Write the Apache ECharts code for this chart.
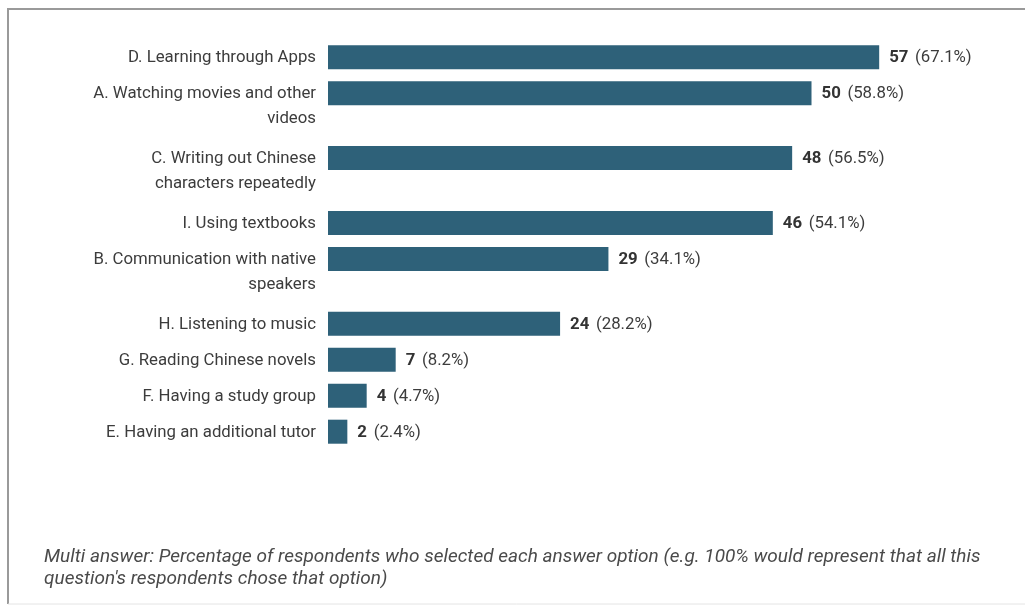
<!DOCTYPE html>
<html>
<head>
<meta charset="utf-8">
<title>Learning methods</title>
<script src="https://cdn.jsdelivr.net/npm/echarts@6/dist/echarts.min.js"></script>
<style>
  html, body { margin: 0; padding: 0; background: #ffffff; }
  #chart { width: 1025px; height: 606px; }
</style>
</head>
<body>
<div id="chart"></div>
<script>
// Answer options (line breaks as they wrap beside the bars)
const categories = [
  'D. Learning through Apps',
  'A. Watching movies and other\nvideos',
  'C. Writing out Chinese\ncharacters repeatedly',
  'I. Using textbooks',
  'B. Communication with native\nspeakers',
  'H. Listening to music',
  'G. Reading Chinese novels',
  'F. Having a study group',
  'E. Having an additional tutor'
];
// Number of respondents choosing each option
const counts = [57, 50, 48, 46, 29, 24, 7, 4, 2];
// Share of respondents, as printed next to each bar
const percents = ['67.1%', '58.8%', '56.5%', '54.1%', '34.1%', '28.2%', '8.2%', '4.7%', '2.4%'];

const footnote = 'Multi answer: Percentage of respondents who selected each answer option (e.g. 100% would represent that all this\nquestion\'s respondents chose that option)';

const BAR_COLOR = '#2e6179';
const TEXT_COLOR = '#3c3c3c';
const FONT = 'Roboto, "Noto Sans", sans-serif';
const LABEL_SIZE = 16.8;

// Rows with a wrapped label take more vertical room than single-line rows.
const rowPos = [];
let acc = 0;
categories.forEach((c, i) => {
  if (i > 0) {
    const prevLines = categories[i - 1].split('\n').length;
    acc += 1 + 0.8 * (prevLines - 1);
  }
  rowPos.push(acc);
});

const data = counts.map((v, i) => [v, rowPos[i], i]);

const chart = echarts.init(document.getElementById('chart'), null, { renderer: 'canvas' });

chart.setOption({
  animation: false,
  backgroundColor: '#ffffff',
  title: {
    text: footnote,
    left: 39,
    top: 541,
    textStyle: {
      fontFamily: FONT,
      fontStyle: 'italic',
      fontWeight: 'normal',
      fontSize: 19,
      lineHeight: 22,
      color: '#4a4a4a'
    }
  },
  graphic: [
    {
      type: 'line', silent: true,
      shape: { x1: 8, y1: 9, x2: 1025, y2: 9 },
      style: { stroke: '#9a9a9a', lineWidth: 2 }
    },
    {
      type: 'line', silent: true,
      shape: { x1: 8, y1: 8, x2: 8, y2: 604 },
      style: { stroke: '#9a9a9a', lineWidth: 2 }
    },
    {
      type: 'line', silent: true,
      shape: { x1: 8, y1: 604, x2: 1025, y2: 604 },
      style: { stroke: '#e4e4e4', lineWidth: 1 }
    }
  ],
  grid: { left: 328, top: 39.3, width: 580.2, height: 410.4 },
  xAxis: { type: 'value', min: 0, max: 60, show: false },
  yAxis: { type: 'value', min: -0.5, max: 10.9, inverse: true, show: false },
  series: [{
    type: 'custom',
    encode: { x: 0, y: 1 },
    data: data,
    renderItem: function (params, api) {
      const val = api.value(0);
      const pos = api.value(1);
      const idx = api.value(2);
      const start = api.coord([0, pos]);
      const end = api.coord([val, pos]);
      const h = api.size([0, 0.667])[1];
      return {
        type: 'group',
        children: [
          {
            type: 'rect',
            shape: { x: start[0], y: start[1] - h / 2, width: end[0] - start[0], height: h },
            style: { fill: BAR_COLOR }
          },
          {
            type: 'text',
            x: start[0] - 12,
            y: start[1] - 11.5,
            style: {
              text: categories[idx],
              align: 'right',
              verticalAlign: 'top',
              lineHeight: 25,
              fill: TEXT_COLOR,
              font: LABEL_SIZE + 'px ' + FONT
            }
          },
          {
            type: 'text',
            x: end[0] + 10,
            y: start[1] + 1,
            style: {
              text: '{n|' + counts[idx] + '}  {p|(' + percents[idx] + ')}',
              align: 'left',
              verticalAlign: 'middle',
              rich: {
                n: { fontFamily: FONT, fontSize: LABEL_SIZE, fontWeight: 'bold', fill: '#333333', color: '#333333' },
                p: { fontFamily: FONT, fontSize: LABEL_SIZE, fontWeight: 'normal', fill: TEXT_COLOR, color: TEXT_COLOR }
              }
            }
          }
        ]
      };
    }
  }]
});
</script>
</body>
</html>
